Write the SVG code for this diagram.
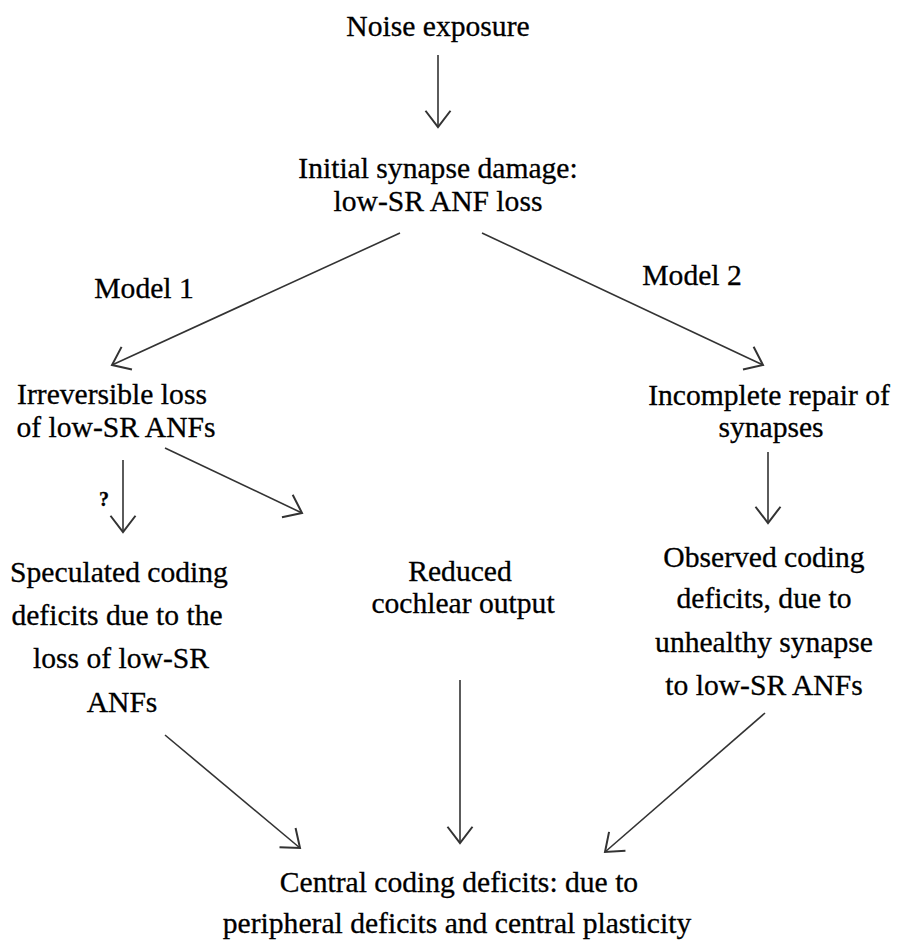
<svg xmlns="http://www.w3.org/2000/svg" width="897" height="941" viewBox="0 0 897 941">
<defs>
<style>
text{font-family:"Liberation Serif","Times New Roman",serif;font-size:29.6px;fill:#000;stroke:#000;stroke-width:0.3;text-anchor:middle}
.q{font-size:20px;font-weight:bold}
.c line{stroke:#333;stroke-width:1.6;fill:none;marker-end:url(#ah)}
</style>
<marker id="ah" markerUnits="userSpaceOnUse" markerWidth="30" markerHeight="30" refX="0" refY="0" viewBox="-15 -12 17 24" orient="auto">
<path d="M-13,-10 L0,0 L-13,10" fill="none" stroke="#333" stroke-width="1.6"/>
</marker>
</defs>
<rect width="897" height="941" fill="#fff"/>
<g class="c" id="connectors">
<line x1="438" y1="55" x2="438" y2="127"/>
<line x1="400" y1="233" x2="112" y2="365"/>
<line x1="482" y1="233" x2="763" y2="365"/>
<line x1="123" y1="460" x2="123" y2="532"/>
<line x1="165" y1="448" x2="302" y2="513"/>
<line x1="768" y1="452" x2="768" y2="523"/>
<line x1="460" y1="680" x2="460" y2="843"/>
<line x1="165" y1="735" x2="300" y2="848"/>
<line x1="765" y1="713" x2="605" y2="852"/>
</g>
<g id="noise"><text x="438" y="36">Noise exposure</text></g>
<g id="initial"><text x="438" y="178">Initial synapse damage:</text><text x="438" y="211">low-SR ANF loss</text></g>
<g id="model1"><text x="144" y="298">Model 1</text></g>
<g id="model2"><text x="692" y="285">Model 2</text></g>
<g id="irreversible"><text x="112" y="404">Irreversible loss</text><text x="116" y="437">of low-SR ANFs</text></g>
<g id="incomplete"><text x="769" y="405">Incomplete repair of</text><text x="771" y="437">synapses</text></g>
<g id="question"><text class="q" x="104" y="506">?</text></g>
<g id="speculated"><text x="119" y="582">Speculated coding</text><text x="117" y="625">deficits due to the</text><text x="121" y="668">loss of low-SR</text><text x="122" y="712">ANFs</text></g>
<g id="reduced"><text x="460" y="581">Reduced</text><text x="463" y="613">cochlear output</text></g>
<g id="observed"><text x="764" y="567">Observed coding</text><text x="764" y="608">deficits, due to</text><text x="764" y="652">unhealthy synapse</text><text x="764" y="695">to low-SR ANFs</text></g>
<g id="central"><text x="459" y="892">Central coding deficits: due to</text><text x="457" y="933">peripheral deficits and central plasticity</text></g>
</svg>
